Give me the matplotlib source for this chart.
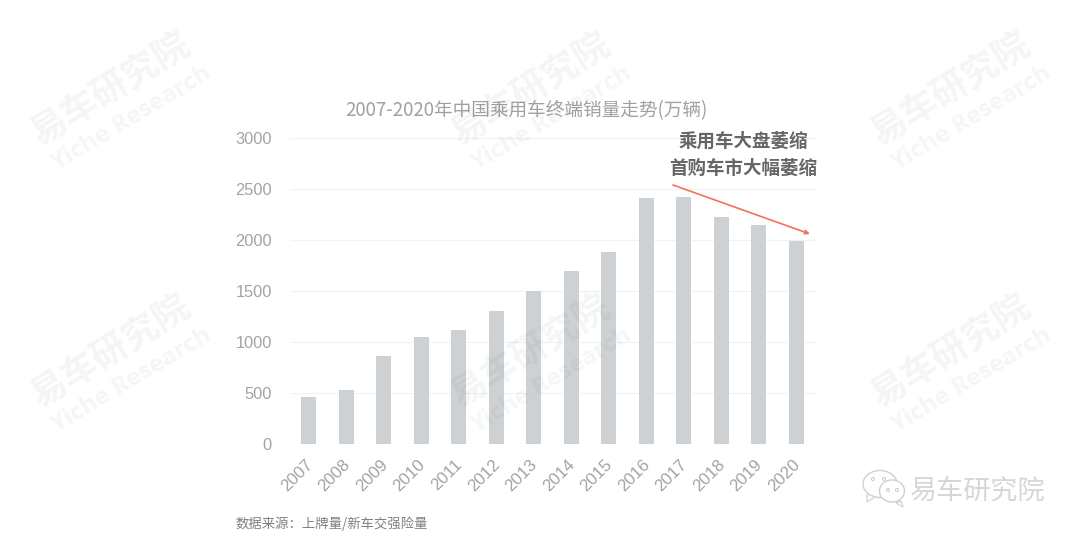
import matplotlib
matplotlib.use('Agg')
import matplotlib.pyplot as plt
from matplotlib.patches import Ellipse, Polygon
from matplotlib.transforms import ScaledTranslation

plt.rcParams['font.family'] = ['Noto Sans CJK SC', 'DejaVu Sans']

years = ['2007','2008','2009','2010','2011','2012','2013','2014','2015','2016','2017','2018','2019','2020']
sales = [465,525,865,1050,1120,1300,1500,1695,1880,2410,2425,2230,2150,1995]
yticks = [0,500,1000,1500,2000,2500,3000]
title = '2007-2020年中国乘用车终端销量走势(万辆)'
note_lines = ['乘用车大盘萎缩', '首购车市大幅萎缩']
source = '数据来源：上牌量/新车交强险量'
brand = '易车研究院'
brand_en = 'Yiche Research'

W, H = 1080, 539
fig = plt.figure(figsize=(W/100, H/100), dpi=100, facecolor='white')
def fx(p): return p/W
def fy(p): return 1-p/H

ax = fig.add_axes([fx(290), fy(444), (816-290)/W, (444-138)/H])
x = range(len(years))
ax.bar(x, sales, width=0.4, color='#ced1d4', zorder=3)
ax.set_xlim(-0.5, 13.53)
ax.set_ylim(0, 3000)
ax.set_yticks(yticks)
ax.set_xticks(list(x))
ax.set_xticklabels(years, rotation=45, ha='right', rotation_mode='anchor', fontfamily='Liberation Sans')
ax.tick_params(length=0)
ax.tick_params(axis='y', labelsize=11.8, labelcolor='#a3a3a3', pad=13)
ax.tick_params(axis='x', labelsize=12.2, labelcolor='#a3a3a3', pad=9)
shift = ScaledTranslation(-4/100, 0, fig.dpi_scale_trans)
for lab in ax.get_xticklabels():
    lab.set_transform(lab.get_transform() + shift)
for lab in ax.get_yticklabels():
    lab.set_fontfamily('Liberation Sans')
ax.grid(axis='y', color='#f1f2f2', lw=0.9, zorder=0)
for s in ax.spines.values():
    s.set_visible(False)

fig.text(fx(526.5), fy(111), title, fontsize=13.45, color='#a0a0a0', ha='center', va='center', zorder=5)
fig.text(fx(743), fy(141), note_lines[0], fontsize=13.3, fontweight='bold', color='#666666', ha='center', va='center', zorder=5)
fig.text(fx(743), fy(168), note_lines[1], fontsize=13.3, fontweight='bold', color='#666666', ha='center', va='center', zorder=5)
fig.text(fx(236), fy(524), source, fontsize=9.6, color='#7f7f7f', ha='left', va='center', zorder=5)

ax.annotate('', xy=(810, H-234), xytext=(673, H-185), xycoords='figure pixels', textcoords='figure pixels',
            arrowprops=dict(arrowstyle='-|>,head_length=0.25,head_width=0.12', color='#f4705a', lw=1.2,
                            shrinkA=0, shrinkB=0), zorder=6)

# watermarks, faint and laid over the whole chart
for cx, cy in [(111,100),(531,100),(951,100),(111,362),(531,362),(951,362)]:
    fig.text(fx(cx-0.5), fy(cy-11), brand, fontsize=26, fontweight='bold', color='#3a4048', alpha=0.055, rotation=32,
             ha='center', va='center', rotation_mode='anchor', zorder=10)
    fig.text(fx(cx+20), fy(cy+19), brand_en, fontsize=17.6, fontweight='bold', color='#3a4048', alpha=0.05, rotation=31,
             ha='center', va='center', rotation_mode='anchor', family='Open Sans', zorder=10)

# brand mark
over = fig.add_axes([0, 0, 1, 1])
over.set_xlim(0, W); over.set_ylim(H, 0); over.axis('off'); over.patch.set_alpha(0)
over.add_patch(Ellipse((880,484),34,27, fc='white', ec='#d0d0d0', lw=1.0))
over.add_patch(Polygon([(867,494),(867,502),(875,497)], fc='white', ec='#d0d0d0', lw=0.8))
over.add_patch(Polygon([(901,501),(903,507),(896,503)], fc='white', ec='#d0d0d0', lw=0.8))
over.add_patch(Ellipse((892,491),25,22, fc='white', ec='#d0d0d0', lw=1.0))
for c in [(873,479),(884,479),(888,490),(897,490)]:
    over.add_patch(Ellipse(c, 3, 3, fc='white', ec='#c8c8c8', lw=0.7))
over.text(978, 491, brand, fontsize=19.5, color='#d6d6d6', ha='center', va='center')

fig.savefig('out.png', dpi=100)
